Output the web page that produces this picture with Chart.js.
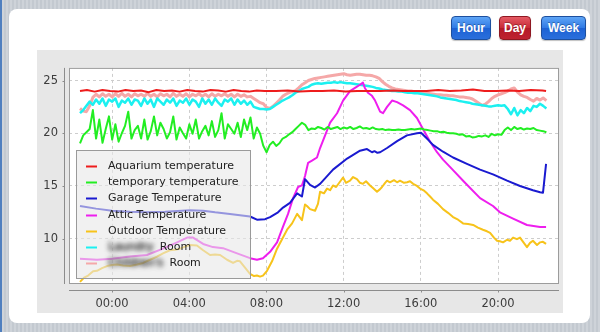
<!DOCTYPE html>
<html>
<head>
<meta charset="utf-8">
<title>Temperatures - Day</title>
<script src="https://cdn.jsdelivr.net/npm/chart.js@4"></script>
<style>
  body {
    margin: 0;
    width: 600px;
    height: 332px;
    overflow: hidden;
    position: relative;
    background: repeating-linear-gradient(90deg, #c3c9d0 0 2px, #ced3d9 2px 4px);
  }
  .edge { position: absolute; left: 0; top: 0; width: 2px; height: 332px; background: #4f7fbf; }
  .panel {
    position: absolute; left: 9px; top: 9px; width: 581px; height: 314px;
    background: #fff; border-radius: 8px;
  }
  .btn {
    position: absolute; top: 16px; height: 24px;
    display: flex; align-items: center; justify-content: center;
    box-sizing: border-box; border-radius: 4px;
    color: #fff; font: bold 12px "Liberation Sans", Arial, sans-serif;
    text-shadow: 0 -1px 0 rgba(0, 0, 0, .3);
    border: 1px solid #1d4f9e;
    background: linear-gradient(#5ea5f6, #2f79e4 50%, #1d62d4 52%, #2a6fdc);
    box-shadow: 0 1px 1px rgba(0, 0, 0, .25);
  }
  .btn.active {
    border-color: #8e1822;
    background: linear-gradient(#e45a64, #c82a36 50%, #b41a28 52%, #be2230);
  }
  .chart-box {
    position: absolute; left: 37px; top: 50px; width: 526px; height: 263px;
    background: #e7e7e7;
  }
  canvas { display: block; }
</style>
</head>
<body>
<div class="edge"></div>
<div class="panel"></div>
<div class="btn" style="left:451px;width:40px">Hour</div>
<div class="btn active" style="left:499px;width:32px">Day</div>
<div class="btn" style="left:541px;width:45px">Week</div>
<div class="chart-box"><canvas id="tempChart" width="526" height="263"></canvas></div>

<script>
// hours relative to midnight; negative = previous evening
const xTickHours = [0, 4, 8, 12, 16, 20];
const xTickLabels = ['00:00', '04:00', '08:00', '12:00', '16:00', '20:00'];
const yTickValues = [10, 15, 20, 25];

// 10 minute samples, first one at 22:20 the evening before
const firstSample = -1.66;
const sampleStep = 1 / 6;

const aquariumTimes = [-1.66, -1.3, -0.9, -0.5, -0.1, 0.3, 0.7, 1.1, 1.5, 1.9, 2.3, 2.7, 3.1, 3.5, 3.9,
  4.3, 4.7, 5.1, 5.5, 5.9, 6.3, 6.7, 7.1, 7.5, 7.9, 8.5, 9.1, 9.7, 10.3, 10.9, 11.5, 12.1, 12.7,
  13.3, 13.9, 14.5, 15.1, 15.7, 16.3, 16.9, 17.5, 18.1, 18.7, 19.3, 19.9, 20.5, 21.1, 21.7, 22.3, 22.49];
const aquariumTemps = [24.0, 24.1, 23.95, 24.1, 24.0, 23.95, 24.1, 24.0, 24.05, 23.9, 24.1, 24.0, 24.05,
  23.95, 24.1, 24.0, 23.95, 24.1, 24.05, 23.95, 24.1, 24.0, 23.95, 24.05, 24.0,
  24.0, 24.05, 23.95, 24.0, 24.0, 24.05, 23.95, 24.0, 24.0, 24.0, 24.05, 24.0, 24.0, 24.0, 24.1,
  24.0, 24.05, 24.15, 24.0, 24.0, 24.05, 24.0, 24.1, 24.05, 24.0];

const temporaryTemps = [
  19.05, 19.8, 20.1, 20.4, 22.2, 19.5, 21.3, 19.1, 20.4, 21.6,
  19.4, 20.85, 19.2, 20.0, 20.7, 22.05, 19.5, 20.3, 20.7, 19.5,
  21.3, 19.4, 20.2, 21.6, 19.8, 21.0, 20.4, 19.5, 20.1, 21.6,
  19.4, 20.55, 20.0, 19.5, 20.85, 19.95, 21.3, 19.5, 20.2, 20.7,
  19.8, 21.15, 19.65, 20.3, 21.9, 19.5, 20.85, 20.4, 19.95, 21.0,
  19.65, 21.3, 20.3, 21.5, 19.5, 20.55, 19.95, 18.8, 18.2, 18.9,
  19.2, 18.8, 19.05, 19.5, 19.65, 19.9, 20.1, 20.4, 20.7, 21.0,
  20.8, 20.3, 20.45, 20.4, 20.6, 20.5, 20.35, 20.6, 20.4, 20.5,
  20.6, 20.4, 20.55, 20.45, 20.6, 20.4, 20.5, 20.65, 20.45, 20.5,
  20.4, 20.55, 20.4, 20.35, 20.4, 20.3, 20.35, 20.3, 20.3, 20.35,
  20.3, 20.3, 20.35, 20.4, 20.35, 20.4, 20.45, 20.35, 20.3, 20.25,
  20.2, 20.2, 20.1, 20.15, 20.05, 20.0, 20.0, 19.95, 19.85, 19.9,
  19.7, 19.75, 19.6, 19.65, 19.75, 19.7, 19.8, 19.65, 19.95, 19.8,
  19.9, 19.85, 20.3, 20.55, 20.3, 20.6, 20.4, 20.5, 20.35, 20.45,
  20.4, 20.5, 20.3, 20.25, 20.2, 20.1];

const garageTimes = [-1.66, -0.83, 0, 0.93, 1.81, 2.75, 4.04, 4.72, 5.34, 6.11, 7.15, 7.51, 7.93, 8.19,
  8.6, 8.86, 9.22, 9.59, 9.84, 10.0, 10.26, 10.52, 10.78, 11.45, 12.18, 12.85, 13.21, 13.47, 13.6,
  13.75, 13.89, 14.25, 14.77, 15.28, 15.8, 16.01, 16.37, 16.63, 17.15, 17.67, 18.39, 19.07, 19.74,
  20.47, 21.14, 21.81, 22.18, 22.33, 22.49];
const garageTemps = [13.1, 12.85, 12.65, 12.55, 12.5, 12.55, 12.7, 12.65, 12.5, 12.35, 12.1, 11.8, 11.85,
  12.05, 12.5, 12.95, 13.4, 14.3, 14.0, 15.65, 15.1, 14.85, 15.2, 16.55, 17.6, 18.35, 18.5, 18.2, 18.3,
  18.15, 18.2, 18.6, 19.25, 19.8, 20.0, 20.05, 19.4, 18.9, 18.25, 17.7, 17.1, 16.55, 16.1,
  15.5, 15.0, 14.6, 14.4, 14.35, 17.1];

const atticTimes = [-1.66, -0.78, 0, 0.93, 1.81, 2.64, 3.37, 3.89, 4.2, 4.72, 5.23, 5.75, 6.48, 7.15,
  7.51, 7.82, 8.19, 8.55, 8.86, 9.12, 9.38, 9.64, 9.84, 10.0, 10.16, 10.36, 10.62, 10.78, 11.04, 11.3,
  11.66, 11.97, 12.33, 12.59, 12.85, 13.0, 13.1, 13.26, 13.47, 13.63, 13.89, 14.04, 14.25, 14.51,
  14.77, 15.08, 15.44, 15.8, 16.11, 16.48, 16.84, 17.15, 17.67, 18.29, 19.07, 19.74, 20.1, 20.78,
  21.5, 22.18, 22.49];
const atticTemps = [8.1, 8.0, 8.1, 8.3, 8.45, 9.05, 9.65, 10.1, 10.1, 9.5, 9.2, 9.1, 8.6, 8.15,
  8.0, 8.15, 8.75, 9.65, 11.15, 12.35, 13.85, 14.9, 15.05, 15.95, 17.2, 17.4, 17.7, 18.6, 19.8, 21.0,
  21.9, 23.1, 24.0, 24.3, 24.6, 24.8, 24.3, 23.85, 23.55, 23.1, 22.05, 21.9, 22.5, 23.1,
  22.95, 22.65, 22.2, 21.45, 20.4, 19.2, 18.2, 17.5, 16.5, 15.3, 13.85, 13.1, 12.5, 11.9,
  11.3, 11.1, 11.1];

const outdoorTimes = [-1.66, -1.45, -1.24, -0.98, -0.78, -0.52, -0.26, 0, 0.26, 0.57, 0.93, 1.3, 1.61,
  1.97, 2.33, 2.64, 3.0, 3.26, 3.52, 3.78, 4.04, 4.4, 4.72, 5.08, 5.34, 5.6, 5.96, 6.27, 6.48, 6.63,
  6.89, 7.15, 7.36, 7.51, 7.67, 7.82, 8.03, 8.29, 8.55, 8.81, 9.07, 9.33, 9.59, 9.84, 10.0, 10.1,
  10.26, 10.52, 10.67, 10.78, 10.98, 11.14, 11.3, 11.45, 11.61, 11.81, 11.97, 12.12, 12.33, 12.49,
  12.69, 12.85, 13.0, 13.16, 13.37, 13.52, 13.73, 13.89, 13.99, 14.15, 14.25, 14.4, 14.61, 14.77,
  14.92, 15.13, 15.29, 15.44, 15.6, 15.8, 15.96, 16.17, 16.32, 16.48, 16.63, 16.89, 17.15, 17.41,
  17.67, 17.93, 18.19, 18.45, 18.71, 18.96, 19.22, 19.43, 19.59, 19.79, 19.95, 20.1, 20.26, 20.47,
  20.62, 20.78, 20.98, 21.14, 21.3, 21.5, 21.66, 21.81, 22.02, 22.18, 22.33, 22.49];
const outdoorTemps = [5.9, 6.3, 6.5, 6.9, 6.95, 7.2, 7.4, 7.5, 7.55, 7.45, 7.4, 7.55, 7.7,
  8.0, 8.3, 8.6, 8.9, 8.95, 9.05, 9.25, 9.4, 9.35, 8.9, 8.45, 8.5, 8.45, 8.0, 7.7, 7.9, 7.85,
  7.25, 6.65, 6.45, 6.5, 6.4, 6.5, 6.95, 7.85, 9.05, 9.95, 10.85, 11.45, 12.35, 11.75, 13.25, 13.1,
  12.8, 12.65, 13.3, 14.45, 14.3, 14.75, 14.6, 15.05, 14.9, 15.4, 15.8, 15.3, 15.5, 15.85,
  15.65, 15.3, 15.2, 15.45, 15.05, 14.8, 14.45, 14.7, 14.9, 15.3, 15.5, 15.35, 15.55, 15.35,
  15.5, 15.3, 15.35, 15.45, 15.2, 15.0, 14.75, 14.55, 14.3, 14.0, 13.7, 13.3, 12.8, 12.45,
  12.05, 11.8, 11.45, 11.4, 11.3, 11.05, 10.85, 10.7, 10.55, 10.1, 9.8, 9.75, 9.65, 9.9,
  9.8, 10.1, 9.95, 10.1, 9.7, 9.2, 9.6, 9.8, 9.4, 9.65, 9.7, 9.5];

const laundryTemps = [
  21.9, 22.2, 22.6, 23.0, 22.7, 23.2, 22.8, 23.3, 22.6, 23.2,
  23.0, 23.3, 22.5, 23.1, 22.9, 23.3, 22.7, 23.2, 23.1, 22.6,
  23.3, 22.8, 23.2, 22.5, 23.3, 23.0, 22.7, 23.2, 22.9, 23.3,
  22.6, 23.1, 22.9, 23.3, 22.7, 23.2, 23.0, 22.5, 23.3, 22.8,
  23.2, 22.7, 23.3, 22.9, 22.6, 23.2, 23.0, 23.3, 22.7, 23.2,
  22.8, 23.1, 22.7, 23.0, 22.5, 22.4, 22.3, 22.3, 22.25, 22.3,
  22.5, 22.7, 22.9, 23.1, 23.25, 23.4, 23.6, 23.85, 24.0, 24.2,
  24.3, 24.4, 24.6, 24.7, 24.75, 24.7, 24.75, 24.8, 24.8, 24.85,
  24.8, 24.85, 24.8, 24.75, 24.75, 24.7, 24.65, 24.6, 24.55, 24.5,
  24.45, 24.4, 24.3, 24.25, 24.15, 24.1, 24.05, 24.0, 24.0, 23.95,
  23.95, 23.9, 23.85, 23.85, 23.8, 23.8, 23.75, 23.7, 23.65, 23.6,
  23.55, 23.5, 23.4, 23.35, 23.3, 23.25, 23.2, 23.15, 23.05, 23.0,
  22.95, 22.9, 22.8, 22.75, 22.7, 22.65, 22.6, 22.55, 22.55, 22.6,
  22.65, 22.6, 22.65, 22.3, 21.8, 22.4, 21.7, 22.2, 21.9, 22.4,
  22.1, 22.6, 22.5, 22.8, 22.6, 22.35];

const childrensTemps = [
  22.35, 22.1, 22.05, 22.6, 23.4, 23.7, 23.45, 23.75, 23.5, 23.7,
  23.45, 23.75, 23.5, 23.8, 23.5, 23.7, 23.45, 23.75, 23.55, 23.7,
  23.5, 23.8, 23.5, 23.7, 23.45, 23.75, 23.55, 23.7, 23.45, 23.8,
  23.5, 23.7, 23.5, 23.75, 23.45, 23.7, 23.55, 23.75, 23.5, 23.7,
  23.45, 23.75, 23.5, 23.7, 23.55, 23.75, 23.5, 23.7, 23.45, 23.7,
  23.5, 23.65, 23.45, 23.5, 23.3, 23.1, 22.9, 22.8, 22.45, 22.35,
  22.55, 22.85, 23.15, 23.5, 23.7, 23.85, 23.95, 24.05, 24.3, 24.6,
  24.8, 25.0, 25.1, 25.2, 25.25, 25.3, 25.35, 25.4, 25.45, 25.5,
  25.55, 25.6, 25.65, 25.55, 25.5, 25.55, 25.6, 25.6, 25.55, 25.5,
  25.5, 25.45, 25.35, 25.2, 24.9, 24.65, 24.45, 24.3, 24.2, 24.15,
  24.1, 24.05, 24.0, 24.0, 23.95, 23.95, 23.9, 23.85, 23.8, 23.75,
  23.7, 23.65, 23.65, 23.6, 23.6, 23.55, 23.55, 23.5, 23.45, 23.45,
  23.4, 23.35, 23.25, 23.05, 22.85, 22.65, 22.75, 23.0, 23.3, 23.5,
  23.65, 23.75, 23.85, 24.0, 24.2, 24.3, 23.9, 23.65, 23.5, 23.4,
  23.2, 23.05, 23.3, 23.15, 23.35, 23.1];

const sampleHours = temporaryTemps.map((_, i) => firstSample + i * sampleStep);

function points(times, temps) {
  return temps.map((t, i) => ({ x: times[i], y: t }));
}

function series(label, times, temps, color, width, extra) {
  return Object.assign({
    label: label,
    data: points(times, temps),
    borderColor: color,
    backgroundColor: color,
    borderWidth: width,
    pointRadius: 0,
    tension: 0,
    borderJoinStyle: 'round'
  }, extra || {});
}

// white plot area on the grey chart panel
const plotBackground = {
  id: 'plotBackground',
  beforeDraw(chart) {
    const { ctx, chartArea: a } = chart;
    ctx.save();
    ctx.fillStyle = '#ffffff';
    ctx.fillRect(a.left, a.top, a.width, a.height);
    ctx.restore();
  }
};

// plot outline, axis lines set off from the plot, and the legend box inside the plot
const plotFrame = {
  id: 'plotFrame',
  afterDatasetsDraw(chart) {
    const { ctx, chartArea: a, scales } = chart;
    ctx.save();
    ctx.lineWidth = 1;
    ctx.strokeStyle = '#9c9c9c';
    ctx.strokeRect(a.left + 0.5, a.top + 0.5, a.width - 1, a.height - 1);

    const ax = a.left - 4.5;
    const ay = a.bottom + 6.5;
    ctx.strokeStyle = '#8c8c8c';
    ctx.beginPath();
    ctx.moveTo(ax, a.top);
    ctx.lineTo(ax, a.bottom);
    ctx.moveTo(a.left, ay);
    ctx.lineTo(a.right, ay);
    scales.y.ticks.forEach(t => {
      const py = Math.round(scales.y.getPixelForValue(t.value)) + 0.5;
      ctx.moveTo(ax - 2, py);
      ctx.lineTo(ax, py);
    });
    scales.x.ticks.forEach(t => {
      const px = Math.round(scales.x.getPixelForValue(t.value)) + 0.5;
      ctx.moveTo(px, ay);
      ctx.lineTo(px, ay + 2);
    });
    ctx.stroke();

    // legend
    const bx = a.left + 7, by = a.bottom - 134, bw = 174, bh = 128;
    ctx.fillStyle = 'rgba(232, 232, 232, 0.6)';
    ctx.fillRect(bx, by, bw, bh);
    ctx.strokeStyle = '#9a9a9a';
    ctx.strokeRect(bx + 0.5, by + 0.5, bw, bh);

    ctx.font = '11px "DejaVu Sans", sans-serif';
    ctx.textBaseline = 'middle';
    chart.data.datasets.forEach((ds, i) => {
      const ry = Math.round(by + 16 + i * 16.2) + 0.5;
      ctx.strokeStyle = ds.borderColor;
      ctx.lineWidth = 2;
      ctx.beginPath();
      ctx.moveTo(bx + 10, ry);
      ctx.lineTo(bx + 21, ry);
      ctx.stroke();

      const tx = bx + 32;
      if (ds.ownerName) {
        // owner name is smudged out, only "Room" stays readable
        ctx.filter = 'blur(2.5px)';
        ctx.fillStyle = '#3a3a3a';
        ctx.fillText(ds.ownerName, tx, ry);
        ctx.fillText(ds.ownerName, tx + 1, ry);
        ctx.filter = 'none';
        ctx.fillStyle = '#222';
        ctx.fillText('Room', tx + ctx.measureText(ds.ownerName + '  ').width, ry);
      } else {
        ctx.fillStyle = '#222';
        ctx.fillText(ds.label, tx, ry);
      }
    });
    ctx.restore();
  }
};

Chart.defaults.font.family = '"DejaVu Sans", sans-serif';
Chart.defaults.font.size = 11.5;
Chart.defaults.color = '#3c3c3c';

const ctx = document.getElementById('tempChart');

const graph = new Chart(ctx, {
  type: 'line',
  data: {
    datasets: [
      series('Aquarium temperature', aquariumTimes, aquariumTemps, '#ee1c1c', 2),
      series('temporary temperature', sampleHours, temporaryTemps, '#22ee22', 2),
      series('Garage Temperature', garageTimes, garageTemps, '#1a1ad0', 2),
      series('Attic Temperature', atticTimes, atticTemps, '#ee1eee', 2),
      series('Outdoor Temperature', outdoorTimes, outdoorTemps, '#f7c31a', 2),
      series('Laundry Room', sampleHours, laundryTemps, '#1cf0f0', 2.5, { ownerName: 'Laundry' }),
      series("Children's Room", sampleHours, childrensTemps, '#f5a8a8', 3, { ownerName: "Children's" })
    ]
  },
  options: {
    responsive: false,
    animation: false,
    devicePixelRatio: 1,
    parsing: false,
    layout: { padding: { top: 6, right: 4, left: 0, bottom: 0 } },
    plugins: {
      legend: { display: false },
      tooltip: { enabled: false }
    },
    scales: {
      x: {
        type: 'linear',
        min: -2.23,
        max: 23.16,
        afterBuildTicks: axis => { axis.ticks = xTickHours.map(v => ({ value: v })); },
        afterFit: axis => { axis.height = 29; },
        ticks: {
          autoSkip: false,
          maxRotation: 0,
          padding: 13,
          callback: (value, index) => xTickLabels[index]
        },
        grid: { color: '#cdcdcd', drawTicks: false },
        border: { display: false, dash: [3, 3] }
      },
      y: {
        type: 'linear',
        min: 5.7,
        max: 26.2,
        afterBuildTicks: axis => { axis.ticks = yTickValues.map(v => ({ value: v })); },
        afterFit: axis => { axis.width = 32; },
        ticks: {
          padding: 11,
          callback: value => String(value)
        },
        grid: { color: '#cdcdcd', drawTicks: false },
        border: { display: false, dash: [3, 3] }
      }
    }
  },
  plugins: [plotBackground, plotFrame]
});
</script>
</body>
</html>
